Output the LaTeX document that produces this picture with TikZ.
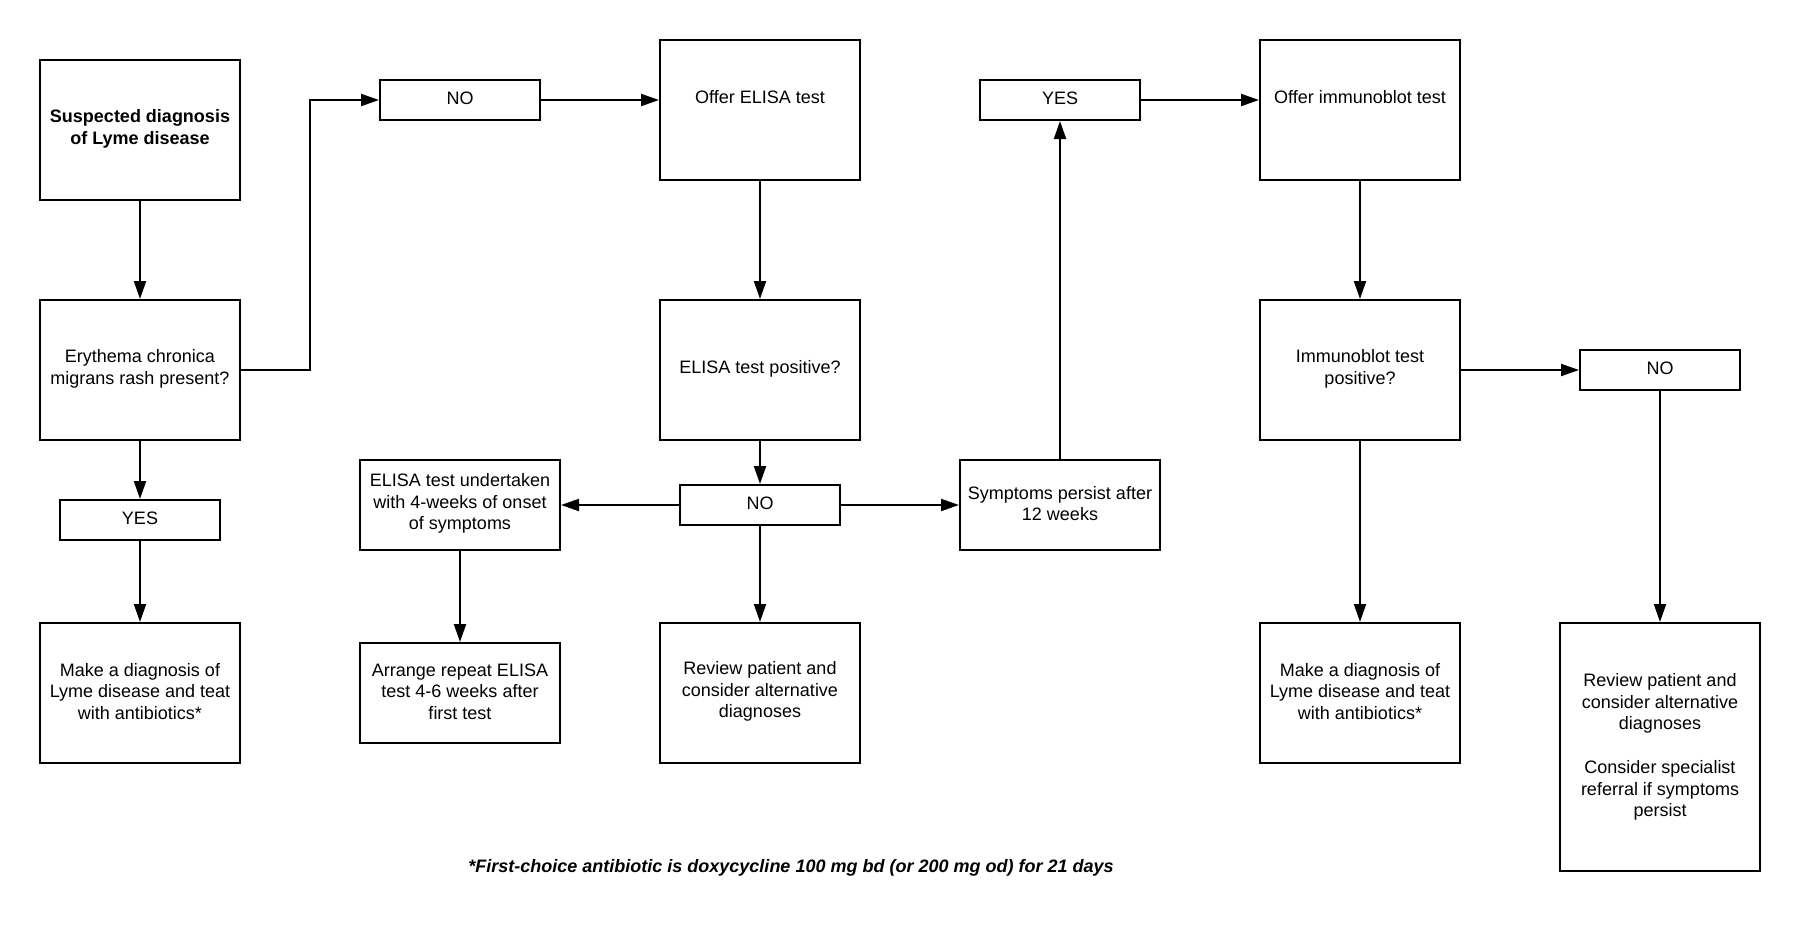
\documentclass[tikz,border=0pt]{standalone}
\usepackage{fontspec}
\setmainfont{Liberation Sans}
\usetikzlibrary{arrows.meta}
\begin{document}
\begin{tikzpicture}[x=1pt,y=-1pt,
  box/.style={draw=black,line width=2pt,rectangle,inner sep=0pt},
  boxtext/.style={font=\fontsize{18}{21.7}\selectfont,align=center,inner sep=0pt,yshift=1.5pt},
  conn/.style={line width=2pt,-{Triangle[length=18pt,width=12pt]}}]
\useasboundingbox (0,0) rectangle (1800,940);
\fill[white] (0,0) rectangle (1800,940);
% helper: boxes defined by corners, text as a centred label
\newcommand{\bx}[7][]{\node[box,minimum width={#5-#3},minimum height={#6-#4},label={[boxtext,#1]center:{#7}}] (#2) at ({(#3+#5)/2},{(#4+#6)/2}) {};}
\bx{susp}{40}{60}{240}{200}{\bfseries Suspected diagnosis\\\bfseries of Lyme disease}
\bx{ery}{40}{300}{240}{440}{Erythema chronica\\migrans rash present?}
\bx{yesL}{60}{500}{220}{540}{YES}
\bx{diagL}{40}{623}{240}{763}{Make a diagnosis of\\Lyme disease and teat\\with antibiotics*}
\bx{noA}{380}{80}{540}{120}{NO}
\bx[yshift=11.5pt]{elisa}{660}{40}{860}{180}{Offer ELISA test}
\bx{elpos}{660}{300}{860}{440}{ELISA test positive?}
\bx{noB}{680}{485}{840}{525}{NO}
\bx{under}{360}{460}{560}{550}{ELISA test undertaken\\with 4-weeks of onset\\of symptoms}
\bx{repeat}{360}{643}{560}{743}{Arrange repeat ELISA\\test 4-6 weeks after\\first test}
\bx{revM}{660}{623}{860}{763}{Review patient and\\consider alternative\\diagnoses}
\bx{sympt}{960}{460}{1160}{550}{Symptoms persist after\\12 weeks}
\bx{yesR}{980}{80}{1140}{120}{YES}
\bx[yshift=11.5pt]{immo}{1260}{40}{1460}{180}{Offer immunoblot test}
\bx{impos}{1260}{300}{1460}{440}{Immunoblot test\\positive?}
\bx{noC}{1580}{350}{1740}{390}{NO}
\bx{diagR}{1260}{623}{1460}{763}{Make a diagnosis of\\Lyme disease and teat\\with antibiotics*}
\bx[yshift=-1.5pt]{revR}{1560}{623}{1760}{871}{Review patient and\\consider alternative\\diagnoses\\[21.7pt]Consider specialist\\referral if symptoms\\persist}
\node[font=\fontsize{18}{21.7}\selectfont\bfseries\itshape] (foot) at (791,868) {*First-choice antibiotic is doxycycline 100 mg bd (or 200 mg od) for 21 days};
% connectors
\draw[conn] (susp) -- (ery);
\draw[conn] (ery) -- (yesL);
\draw[conn] (yesL) -- (diagL);
\draw[conn] (ery.east) -- (310,370) -- (310,100) -- (noA.west);
\draw[conn] (noA) -- (elisa.west |- noA);
\draw[conn] (elisa) -- (elpos);
\draw[conn] (elpos) -- (noB);
\draw[conn] (noB) -- (under.east |- noB);
\draw[conn] (noB) -- (revM);
\draw[conn] (noB) -- (sympt.west |- noB);
\draw[conn] (under) -- (repeat);
\draw[conn] (sympt.north) -- (yesR.south);
\draw[conn] (yesR) -- (immo.west |- yesR);
\draw[conn] (immo) -- (impos);
\draw[conn] (impos.east |- noC) -- (noC);
\draw[conn] (impos) -- (diagR);
\draw[conn] (noC) -- (revR);
\end{tikzpicture}
\end{document}
